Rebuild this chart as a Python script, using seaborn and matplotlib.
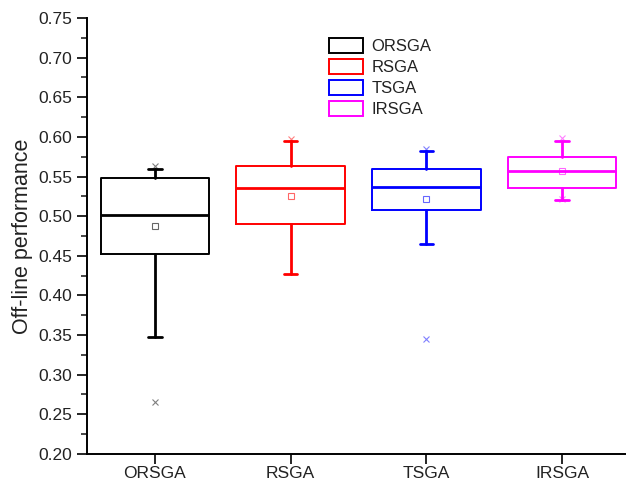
import matplotlib
matplotlib.use("Agg")
import matplotlib.pyplot as plt
import seaborn as sns
import numpy as np
import pandas as pd
from matplotlib.patches import Patch
from matplotlib.ticker import MultipleLocator

sns.set_style("ticks")
plt.rcParams['font.family'] = ['Liberation Sans', 'DejaVu Sans']

categories = ["ORSGA", "RSGA", "TSGA", "IRSGA"]
colors = ["#000000", "#FF0000", "#0000FF", "#FF00FF"]
q1 = [0.452, 0.490, 0.508, 0.536]
median = [0.502, 0.536, 0.537, 0.557]
q3 = [0.548, 0.563, 0.559, 0.574]
mean = [0.487, 0.525, 0.521, 0.557]
whisker_low = [0.348, 0.427, 0.465, 0.520]
whisker_high = [0.560, 0.595, 0.582, 0.595]
extreme_max = [0.563, 0.597, 0.585, 0.598]
extreme_min = [0.266, None, 0.345, 0.522]

fig = plt.figure(figsize=(6.26, 4.86), dpi=100)
ax = fig.add_axes([0.139, 0.066, 0.861, 0.897])

for i, c in enumerate(categories):
    st = dict(med=median[i], q1=q1[i], q3=q3[i], whislo=whisker_low[i],
              whishi=whisker_high[i], mean=mean[i], fliers=[], label=c)
    ax.bxp([st], positions=[i], widths=0.8, showmeans=False, showfliers=False,
           patch_artist=False,
           boxprops=dict(color=colors[i], linewidth=1.4),
           medianprops=dict(color=colors[i], linewidth=2.0),
           whiskerprops=dict(color=colors[i], linewidth=2.0),
           capprops=dict(color=colors[i], linewidth=2.0),
           capwidths=0.1, manage_ticks=False)

for i in range(4):
    ax.plot(i, mean[i], marker='s', ms=4.5, mfc='none', mec=colors[i], mew=0.8, alpha=0.6, ls='none')
    ax.plot(i, extreme_max[i], marker='x', ms=4, mec=colors[i], mew=0.8, alpha=0.5, ls='none')
    if extreme_min[i] is not None:
        ax.plot(i, extreme_min[i], marker='x', ms=4, mec=colors[i], mew=0.8, alpha=0.5, ls='none')

ax.set_xlim(-0.5, 3.47)
ax.set_ylim(0.20, 0.75)
ax.set_xticks(range(4))
ax.set_xticklabels(categories)
ax.yaxis.set_major_locator(MultipleLocator(0.05))
ax.yaxis.set_minor_locator(MultipleLocator(0.025))
ax.yaxis.set_major_formatter(matplotlib.ticker.FormatStrFormatter('%.2f'))
ax.tick_params(axis='both', which='major', direction='out', length=7, width=1.2,
               labelsize=12.5, colors='black', labelcolor='#222222')
ax.tick_params(axis='y', which='minor', direction='out', length=4, width=1.2)
ax.tick_params(axis='x', pad=2)
for s in ['top', 'right']:
    ax.spines[s].set_visible(False)
for s in ['left', 'bottom']:
    ax.spines[s].set_linewidth(1.4)
    ax.spines[s].set_color('black')
ax.set_ylabel("Off-line performance", fontsize=15.5, color='#222222', labelpad=4)

handles = [Patch(facecolor='white', edgecolor=c, linewidth=1.4, label=l) for c, l in zip(colors, categories)]
leg = ax.legend(handles=handles, loc='upper left', bbox_to_anchor=(0.436, 0.969), frameon=False,
                fontsize=12, handlelength=2.05, handleheight=1.0, labelspacing=0.28,
                handletextpad=0.5, borderaxespad=0)
for t in leg.get_texts():
    t.set_color('#222222')

fig.savefig("out.png", dpi=100)
